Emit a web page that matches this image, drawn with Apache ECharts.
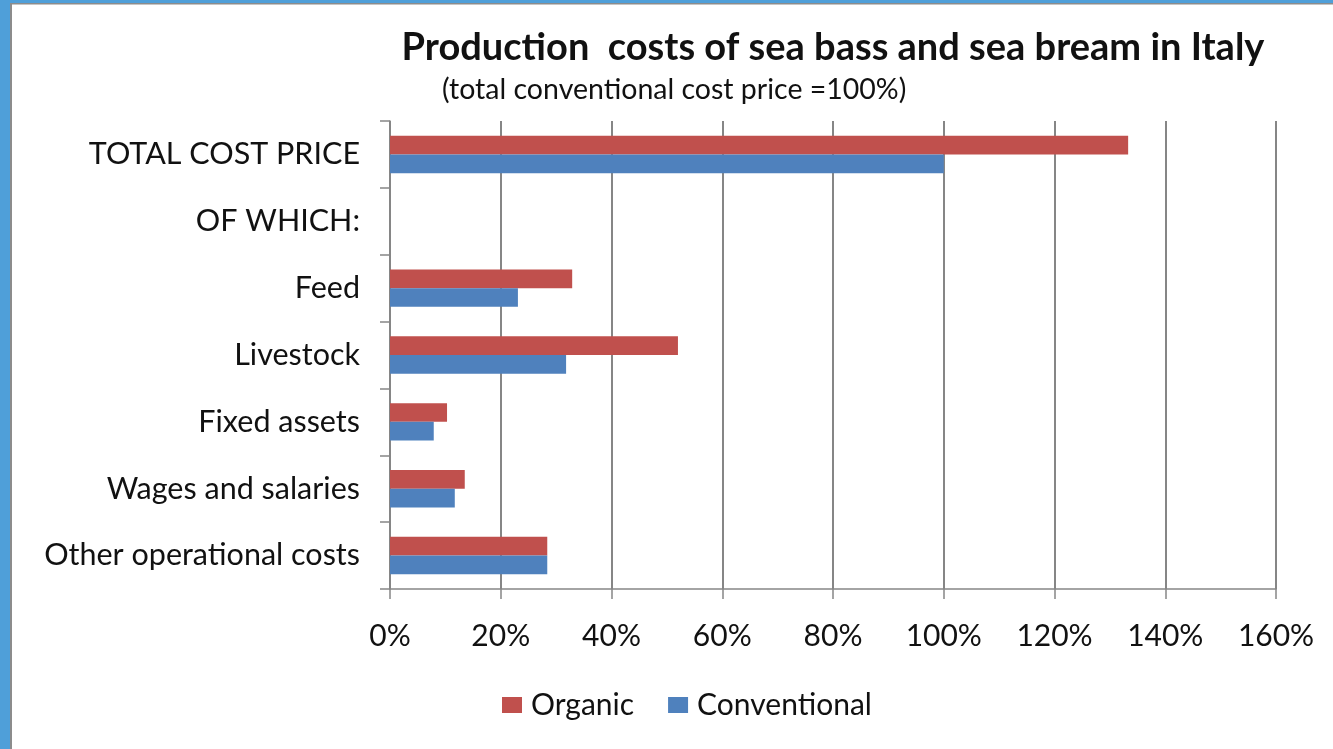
<!DOCTYPE html>
<html>
<head>
<meta charset="utf-8">
<script src="https://cdn.jsdelivr.net/npm/echarts@6/dist/echarts.min.js"></script>
<style>
html,body{margin:0;padding:0;background:#fff;}
#chart{width:1333px;height:749px;}
</style>
</head>
<body>
<div id="chart"></div>
<script>
const categories = ["TOTAL COST PRICE", "OF WHICH:", "Feed", "Livestock", "Fixed assets", "Wages and salaries", "Other operational costs"];
const organic = [133.3, null, 32.9, 52.0, 10.3, 13.5, 28.4];
const conventional = [100, null, 23.1, 31.8, 7.9, 11.7, 28.4];
const xTicks = [0, 20, 40, 60, 80, 100, 120, 140, 160];
const titleText = "Production  costs of sea bass and sea bream in Italy";
const subtitleText = "(total conventional cost price =100%)";

const FONT = "Lato";
const chart = echarts.init(document.getElementById('chart'));
chart.setOption({
  animation: false,
  backgroundColor: '#ffffff',
  textStyle: {fontFamily: FONT},
  graphic: [
    {type: 'rect', shape: {x: 0, y: 0, width: 10, height: 749}, style: {fill: '#4f9fd9'}},
    {type: 'rect', shape: {x: 0, y: 0, width: 1333, height: 3}, style: {fill: '#4f9fd9'}},
    {type: 'rect', shape: {x: 10, y: 3, width: 2, height: 746}, style: {fill: '#8c8c8c'}},
    {type: 'rect', shape: {x: 10, y: 3, width: 1323, height: 1.5}, style: {fill: '#8c8c8c'}}
  ],
  title: [
    {text: titleText, left: 828, top: 24, textAlign: 'center',
     textStyle: {fontFamily: FONT, fontWeight: 'bold', fontSize: 38, color: '#111'}},
    {text: subtitleText, left: 437, top: 70,
     textStyle: {fontFamily: FONT, fontWeight: 'normal', fontSize: 28.5, color: '#111'}}
  ],
  legend: {
    data: ['Organic', 'Conventional'],
    bottom: 24,
    left: 497,
    itemWidth: 20,
    itemHeight: 16,
    itemGap: 34,
    icon: 'rect',
    textStyle: {fontFamily: FONT, fontSize: 30, color: '#111', padding: [0, 0, 0, 4]}
  },
  grid: {left: 390, right: 57, top: 121, bottom: 160, containLabel: false},
  xAxis: {
    type: 'value',
    min: 0, max: 160, interval: 20,
    axisLine: {show: true, lineStyle: {color: '#868686', width: 1.5}},
    axisTick: {show: true, length: 10, lineStyle: {color: '#868686', width: 1.5}},
    splitLine: {show: true, lineStyle: {color: '#868686', width: 2}},
    axisLabel: {
      margin: 32, fontSize: 30, color: '#111', fontFamily: FONT,
      formatter: v => xTicks.indexOf(v) >= 0 ? v + '%' : ''
    }
  },
  yAxis: {
    type: 'category',
    data: categories,
    inverse: true,
    axisLine: {show: true, lineStyle: {color: '#868686', width: 1.5}},
    axisTick: {show: true, length: 10, lineStyle: {color: '#868686', width: 1.5}},
    splitLine: {show: false},
    axisLabel: {margin: 30, fontSize: 30.5, color: '#111', fontFamily: FONT}
  },
  series: [
    {name: 'Organic', type: 'bar', data: organic, itemStyle: {color: '#C0504D'},
     barGap: '0%', barCategoryGap: '44%'},
    {name: 'Conventional', type: 'bar', data: conventional, itemStyle: {color: '#4F81BD'},
     barGap: '0%', barCategoryGap: '44%'}
  ]
});
</script>
</body>
</html>
